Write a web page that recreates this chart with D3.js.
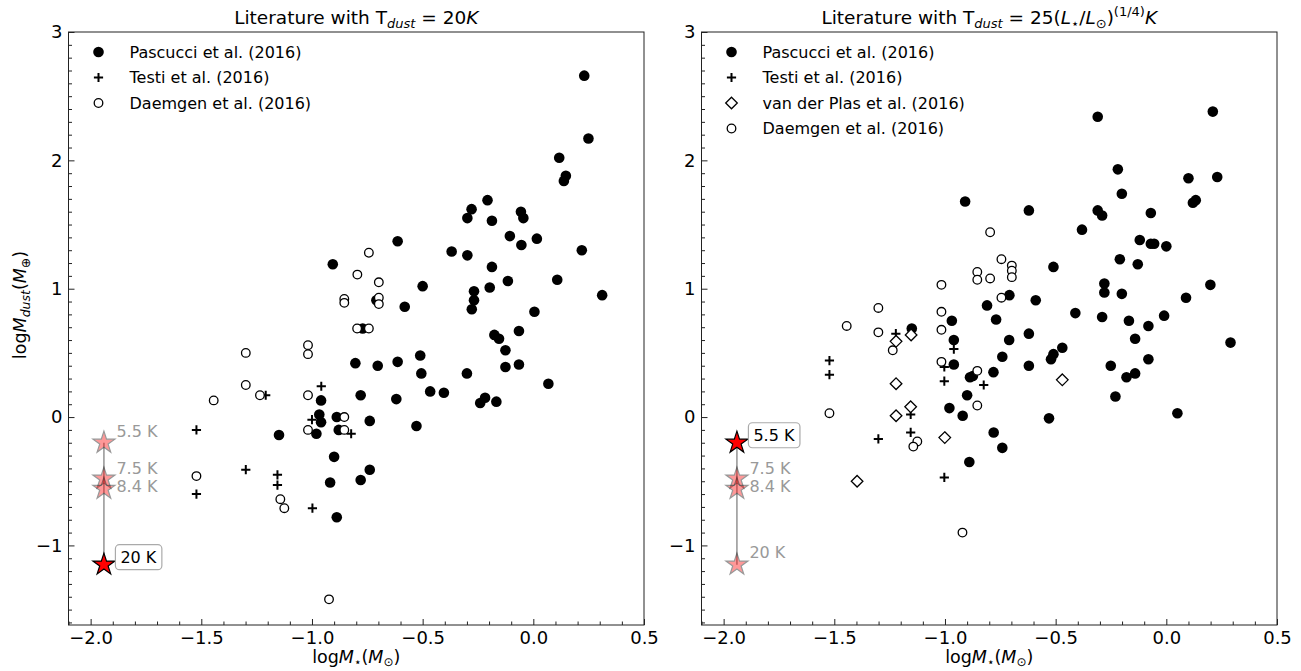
<!DOCTYPE html>
<html>
<head>
<meta charset="utf-8">
<script src="https://cdn.jsdelivr.net/npm/d3@7"></script>
<style>
  body { margin: 0; background: #fff; }
  svg { font-family: "DejaVu Sans", sans-serif; }
</style>
</head>
<body>
<svg id="chart" width="1301" height="671"></svg>
<script>
// ---- data: [log M*, log Mdust] ----
const pascucciLeft = [
  [0.230, 2.66], [0.249, 2.17], [0.117, 2.02], [0.147, 1.88], [0.138, 1.84], [-0.207, 1.69],
  [-0.279, 1.62], [-0.298, 1.55], [-0.187, 1.53], [-0.056, 1.60], [-0.045, 1.55], [-0.106, 1.41],
  [-0.054, 1.34], [0.016, 1.39], [0.219, 1.30], [-0.369, 1.29], [-0.298, 1.26], [-0.613, 1.37],
  [-0.906, 1.19], [-0.187, 1.17], [0.108, 1.07], [-0.115, 1.06], [0.311, 0.95], [-0.500, 1.02],
  [-0.268, 0.98], [-0.268, 0.91], [-0.197, 1.01], [-0.278, 0.84], [-0.581, 0.86], [0.005, 0.82],
  [-0.065, 0.67], [-0.176, 0.64], [-0.155, 0.61], [-0.126, 0.52], [-0.804, 0.42], [-0.703, 0.40],
  [-0.613, 0.43], [-0.511, 0.48], [-0.126, 0.39], [-0.065, 0.41], [-0.709, 0.91], [-0.771, 0.69],
  [-0.506, 0.34], [-0.300, 0.34], [0.068, 0.26], [-0.466, 0.20], [-0.404, 0.19], [-0.240, 0.11],
  [-0.218, 0.15], [-0.167, 0.12], [-0.528, -0.07], [-0.619, 0.14], [-0.780, 0.17], [-0.959, 0.13],
  [-0.967, 0.02], [-0.959, -0.04], [-0.888, 0.00], [-0.879, -0.10], [-0.980, -0.13], [-0.739, -0.03],
  [-1.149, -0.14], [-0.900, -0.31], [-0.739, -0.41], [-0.780, -0.49], [-0.918, -0.51], [-0.888, -0.78]
];
const testiLeft = [
  [-0.958, 0.24], [-1.209, 0.17], [-1.000, -0.02], [-0.823, -0.13], [-1.522, -0.10],
  [-1.299, -0.41], [-1.156, -0.45], [-1.156, -0.53], [-1.522, -0.60], [-0.998, -0.71]
];
const daemgenLeft = [
  [-0.743, 1.28], [-0.795, 1.11], [-0.698, 1.05], [-0.854, 0.92], [-0.854, 0.89], [-0.698, 0.93],
  [-0.698, 0.88], [-0.796, 0.69], [-0.743, 0.69], [-1.299, 0.50], [-1.018, 0.56], [-1.018, 0.49],
  [-1.299, 0.25], [-1.235, 0.17], [-1.444, 0.13], [-1.018, 0.17], [-0.854, 0.00], [-1.018, -0.10],
  [-0.854, -0.10], [-1.522, -0.46], [-1.143, -0.64], [-1.125, -0.71], [-0.923, -1.42]
];

const pascucciRight = [
  [-0.310, 2.34], [0.210, 2.38], [-0.219, 1.93], [0.100, 1.86], [0.230, 1.87], [-0.201, 1.74],
  [0.133, 1.69], [0.120, 1.67], [-0.909, 1.68], [-0.621, 1.61], [-0.310, 1.61], [-0.290, 1.57],
  [-0.070, 1.59], [-0.381, 1.46], [-0.120, 1.38], [-0.070, 1.35], [-0.055, 1.35], [0.000, 1.33],
  [-0.210, 1.23], [-0.129, 1.19], [-0.510, 1.17], [-0.280, 1.04], [-0.280, 0.97], [-0.201, 0.96],
  [0.199, 1.03], [0.089, 0.93], [-0.709, 0.95], [-0.590, 0.91], [-0.810, 0.87], [-0.769, 0.76],
  [-0.411, 0.81], [-0.290, 0.78], [-0.169, 0.75], [-0.010, 0.79], [-0.081, 0.71], [-0.141, 0.61],
  [-0.969, 0.75], [-1.150, 0.69], [-0.960, 0.60], [-0.710, 0.60], [-0.621, 0.65], [0.290, 0.58],
  [-0.741, 0.47], [-0.510, 0.49], [-0.521, 0.45], [-0.470, 0.54], [-0.960, 0.41], [-0.781, 0.35],
  [-0.887, 0.31], [-0.874, 0.32], [-0.621, 0.40], [-0.251, 0.40], [-0.081, 0.45], [-0.141, 0.34],
  [-0.180, 0.31], [-0.900, 0.17], [-0.230, 0.16], [-0.980, 0.07], [-0.920, 0.01], [-0.530, -0.01],
  [0.050, 0.03], [-0.780, -0.12], [-0.741, -0.24], [-0.890, -0.35]
];
const testiRight = [
  [-1.222, 0.65], [-0.960, 0.53], [-1.522, 0.44], [-1.522, 0.33], [-1.003, 0.39], [-1.003, 0.28],
  [-0.825, 0.25], [-1.155, 0.02], [-1.155, -0.12], [-1.301, -0.17], [-1.003, -0.47]
];
const plasRight = [
  [-1.221, 0.59], [-1.153, 0.64], [-1.221, 0.26], [-1.155, 0.08], [-1.221, 0.01],
  [-1.001, -0.16], [-1.397, -0.50], [-0.470, 0.29]
];
const daemgenRight = [
  [-0.796, 1.44], [-0.745, 1.23], [-0.698, 1.18], [-0.698, 1.14], [-0.698, 1.09], [-0.854, 1.13],
  [-0.854, 1.07], [-0.796, 1.08], [-1.016, 1.03], [-0.745, 0.93], [-1.301, 0.85], [-1.444, 0.71],
  [-1.301, 0.66], [-1.016, 0.82], [-1.016, 0.68], [-1.236, 0.52], [-1.016, 0.43], [-0.854, 0.36],
  [-1.522, 0.03], [-0.854, 0.09], [-1.125, -0.19], [-1.143, -0.23], [-0.921, -0.90]
];

// temperature track for the new object
const starLabels = ["5.5 K", "7.5 K", "8.4 K", "20 K"];
const starMass = -1.94;
const starDust = [-0.20, -0.48, -0.56, -1.15];

const xTicks = [-2.0, -1.5, -1.0, -0.5, 0.0, 0.5];
const yTicks = [-1, 0, 1, 2, 3];
const xDomain = [-2.1, 0.5];
const yDomain = [-1.62, 3];

// ---- drawing ----
const svg = d3.select("#chart");
const yTop = 32, yBot = 625;

const panels = [
  { x0: 68.5, x1: 644, hi: 3, yLabel: true,
    series: [
      { name: "Pascucci et al. (2016)", type: "filled", data: pascucciLeft },
      { name: "Testi et al. (2016)", type: "plus", data: testiLeft },
      { name: "Daemgen et al. (2016)", type: "open", data: daemgenLeft }
    ] },
  { x0: 701.5, x1: 1277, hi: 0, yLabel: false,
    series: [
      { name: "Pascucci et al. (2016)", type: "filled", data: pascucciRight },
      { name: "Testi et al. (2016)", type: "plus", data: testiRight },
      { name: "van der Plas et al. (2016)", type: "diamond", data: plasRight },
      { name: "Daemgen et al. (2016)", type: "open", data: daemgenRight }
    ] }
];

function drawMarker(sel, type) {
  if (type === "filled") {
    sel.append("circle").attr("r", 5.3).attr("fill", "#000");
  } else if (type === "open") {
    sel.append("circle").attr("r", 4.3).attr("fill", "#fff")
      .attr("stroke", "#000").attr("stroke-width", 1.3);
  } else if (type === "plus") {
    sel.append("path").attr("d", "M-4.6,0H4.6M0,-4.6V4.6")
      .attr("stroke", "#000").attr("stroke-width", 2).attr("fill", "none");
  } else if (type === "diamond") {
    sel.append("path").attr("d", "M0,-5.8L5.8,0L0,5.8L-5.8,0Z")
      .attr("fill", "#fff").attr("stroke", "#000").attr("stroke-width", 1.3);
  }
}

panels.forEach((p, pi) => {
  const x = d3.scaleLinear().domain(xDomain).range([p.x0, p.x1]);
  const y = d3.scaleLinear().domain(yDomain).range([yBot, yTop]);
  const g = svg.append("g");

  // ticks (inward), bottom and left only
  const minorX = d3.range(-21, 6).map(d => d / 10).filter(d => Math.abs(d * 2 - Math.round(d * 2)) > 1e-6);
  const minorY = d3.range(-16, 31).map(d => d / 10).filter(d => Math.abs(d - Math.round(d)) > 1e-6);

  g.append("g").attr("transform", `translate(0,${yBot})`)
    .call(d3.axisBottom(x).tickValues(xTicks).tickSize(-6).tickPadding(6).tickFormat(d3.format(".1f")));
  g.append("g").attr("transform", `translate(0,${yBot})`)
    .call(d3.axisBottom(x).tickValues(minorX).tickSize(-3.5).tickFormat(""));
  g.append("g").attr("transform", `translate(${p.x0},0)`)
    .call(d3.axisLeft(y).tickValues(yTicks).tickSize(-6).tickPadding(6).tickFormat(d3.format("d")));
  g.append("g").attr("transform", `translate(${p.x0},0)`)
    .call(d3.axisLeft(y).tickValues(minorY).tickSize(-3.5).tickFormat(""));
  g.selectAll(".domain").remove();
  g.selectAll(".tick line").attr("stroke", "#222").attr("stroke-width", 1);
  g.selectAll(".tick text").attr("font-size", 18).attr("fill", "#000")
    .attr("font-family", "DejaVu Sans");

  // frame
  g.append("rect").attr("x", p.x0).attr("y", yTop)
    .attr("width", p.x1 - p.x0).attr("height", yBot - yTop)
    .attr("fill", "none").attr("stroke", "#222").attr("stroke-width", 1);

  // data
  const clipId = "clip" + pi;
  svg.append("clipPath").attr("id", clipId).append("rect")
    .attr("x", p.x0).attr("y", yTop).attr("width", p.x1 - p.x0).attr("height", yBot - yTop);
  const plot = g.append("g").attr("clip-path", `url(#${clipId})`);
  p.series.forEach(s => {
    plot.selectAll(null).data(s.data).enter().append("g")
      .attr("transform", d => `translate(${x(d[0])},${y(d[1])})`)
      .each(function () { drawMarker(d3.select(this), s.type); });
  });

  // temperature track
  plot.append("line")
    .attr("x1", x(starMass)).attr("x2", x(starMass))
    .attr("y1", y(d3.max(starDust))).attr("y2", y(d3.min(starDust)))
    .attr("stroke", "#000").attr("stroke-opacity", 0.4).attr("stroke-width", 1.6);
  const star = d3.symbol(d3.symbolStar).size(150)();
  const grayDy = [-11, -10, -2, -12];
  starDust.forEach((v, i) => {
    const sx = x(starMass), sy = y(v);
    if (i === p.hi) {
      plot.append("path").attr("d", star).attr("transform", `translate(${sx},${sy})`)
        .attr("fill", "#ff0000").attr("stroke", "#000").attr("stroke-width", 1.2);
      const t = plot.append("text").attr("x", sx + 16.5).attr("y", sy - 7.5)
        .attr("dominant-baseline", "central").attr("font-size", 16).attr("fill", "#000")
        .text(starLabels[i]);
      const bb = t.node().getBBox();
      plot.insert("rect", function () { return t.node(); })
        .attr("x", bb.x - 5).attr("y", sy - 7.5 - 12.5).attr("width", bb.width + 10).attr("height", 25)
        .attr("rx", 4).attr("fill", "#fff").attr("stroke", "#aaa").attr("stroke-width", 1.2);
    } else {
      plot.append("path").attr("d", star).attr("transform", `translate(${sx},${sy})`)
        .attr("fill", "#ff0000").attr("stroke", "#000").attr("stroke-width", 1.2)
        .attr("opacity", 0.4);
      plot.append("text").attr("x", sx + 12.5).attr("y", sy + grayDy[i])
        .attr("dominant-baseline", "central").attr("font-size", 16).attr("fill", "#999")
        .text(starLabels[i]);
    }
  });

  // legend
  const leg = g.append("g");
  p.series.forEach((s, i) => {
    const ly = 52 + i * 25.5;
    const m = leg.append("g").attr("transform", `translate(${p.x0 + 30},${ly})`);
    drawMarker(m, s.type);
    leg.append("text").attr("x", p.x0 + 61).attr("y", ly)
      .attr("dominant-baseline", "central").attr("font-size", 16).attr("fill", "#000")
      .text(s.name);
  });

  // title
  const cx = (p.x0 + p.x1) / 2;
  const title = g.append("text").attr("x", cx).attr("y", 24).attr("text-anchor", "middle")
    .attr("font-size", 18.5).attr("fill", "#000");
  title.append("tspan").text("Literature with T");
  title.append("tspan").attr("font-size", 13).attr("font-style", "italic").attr("dy", 4).text("dust");
  if (pi === 0) {
    title.append("tspan").attr("dy", -4).text(" = 20");
    title.append("tspan").attr("font-style", "italic").text("K");
  } else {
    title.append("tspan").attr("dy", -4).text(" = 25(");
    title.append("tspan").attr("font-style", "italic").text("L");
    title.append("tspan").attr("font-size", 13).attr("dy", 4).text("\u22c6");
    title.append("tspan").attr("dy", -4).text("/");
    title.append("tspan").attr("font-style", "italic").text("L");
    title.append("tspan").attr("font-size", 13).attr("dy", 4).text("\u2299");
    title.append("tspan").attr("dy", -4).text(")");
    title.append("tspan").attr("font-size", 13).attr("dy", -8).text("(1/4)");
    title.append("tspan").attr("font-style", "italic").attr("dy", 8).text("K");
  }

  // x label
  const xl = g.append("text").attr("x", cx).attr("y", 663).attr("text-anchor", "middle")
    .attr("font-size", 17.5).attr("fill", "#000");
  xl.append("tspan").text("log");
  xl.append("tspan").attr("font-style", "italic").text("M");
  xl.append("tspan").attr("font-size", 12).attr("dy", 3).text("\u22c6");
  xl.append("tspan").attr("dy", -3).text("(");
  xl.append("tspan").attr("font-style", "italic").text("M");
  xl.append("tspan").attr("font-size", 12).attr("dy", 3).text("\u2299");
  xl.append("tspan").attr("dy", -3).text(")");

  // y label
  if (p.yLabel) {
    const yl = g.append("text").attr("transform", "translate(26,305) rotate(-90)")
      .attr("text-anchor", "middle").attr("font-size", 17.5).attr("fill", "#000");
    yl.append("tspan").text("log");
    yl.append("tspan").attr("font-style", "italic").text("M");
    yl.append("tspan").attr("font-size", 12.5).attr("font-style", "italic").attr("dy", 4).text("dust");
    yl.append("tspan").attr("dy", -4).text("(");
    yl.append("tspan").attr("font-style", "italic").text("M");
    yl.append("tspan").attr("font-size", 12.5).attr("dy", 4).text("\u2295");
    yl.append("tspan").attr("dy", -4).text(")");
  }
});
</script>
</body>
</html>
